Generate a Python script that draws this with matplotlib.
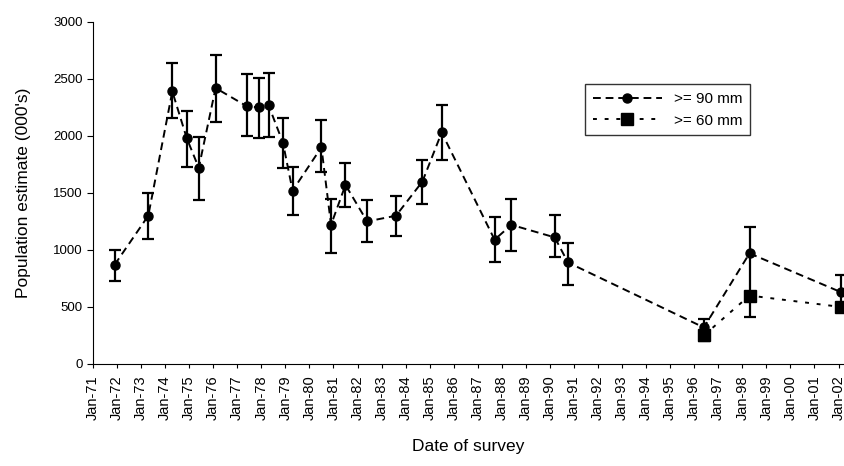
import matplotlib
matplotlib.use("Agg")
import matplotlib.pyplot as plt
import numpy as np

# ---- data ----
tick_years = list(range(1971, 2003))
tick_labels = [f"Jan-{y % 100:02d}" for y in tick_years]

s90_years = [1971.9, 1973.3, 1974.3, 1974.9, 1975.4, 1976.1, 1977.4, 1977.9, 1978.3,
             1978.9, 1979.3, 1980.5, 1980.9, 1981.5, 1982.4, 1983.6, 1984.7, 1985.5,
             1987.7, 1988.4, 1990.2, 1990.75, 1996.4, 1998.3, 2002.1]
s90_values = [870, 1300, 2390, 1980, 1720, 2420, 2260, 2250, 2270,
              1940, 1520, 1900, 1220, 1570, 1250, 1300, 1600, 2030,
              1090, 1220, 1110, 890, 320, 970, 630]
s90_low = [730, 1100, 2160, 1730, 1440, 2120, 2000, 1980, 1990,
           1720, 1310, 1680, 970, 1380, 1070, 1120, 1400, 1790,
           890, 990, 940, 690, 200, 410, 520]
s90_high = [1000, 1500, 2640, 2220, 1990, 2710, 2540, 2510, 2550,
            2160, 1730, 2140, 1450, 1760, 1440, 1470, 1790, 2270,
            1290, 1450, 1310, 1060, 390, 1200, 780]

s60_years = [1996.4, 1998.3, 2002.1]
s60_values = [250, 600, 500]

labels = [">= 90 mm", ">= 60 mm"]

# ---- plot ----
plt.rcParams['font.family'] = ['Liberation Sans', 'DejaVu Sans']
fig = plt.figure(figsize=(8.45, 4.66), dpi=100)
ax = fig.add_axes([0.110, 0.219, 0.888, 0.734])

v = np.array(s90_values)
yerr = [v - np.array(s90_low), np.array(s90_high) - v]
ax.errorbar(s90_years, s90_values, yerr=yerr, fmt='none', ecolor='black',
            elinewidth=1.6, capsize=4.5, capthick=1.6, zorder=2)
ax.plot(s90_years, s90_values, color='black', linestyle=(0, (4, 2.5)), linewidth=1.4,
        marker='o', markersize=6.5, markerfacecolor='black', label=labels[0], zorder=3)
ax.plot(s60_years, s60_values, color='black', linestyle=(0, (2, 4)), linewidth=1.4,
        marker='s', markersize=8, markerfacecolor='black', label=labels[1], zorder=3)

ax.set_xlim(1971.0, 2002.2)
ax.set_ylim(0, 3000)
ax.set_yticks(range(0, 3001, 500))
ax.set_xticks(tick_years)
ax.set_xticklabels(tick_labels, rotation=90, fontsize=10.5)
ax.tick_params(axis='y', labelsize=9.5, length=4)
ax.tick_params(axis='x', length=3, pad=5)
ax.spines['top'].set_visible(False)
ax.spines['right'].set_visible(False)

ax.set_ylabel("Population estimate (000's)", fontsize=12.5, labelpad=16)
ax.set_xlabel("Date of survey", fontsize=12.5, labelpad=14)

leg = ax.legend(loc='upper left', bbox_to_anchor=(0.646, 0.84), frameon=True,
                fancybox=False, edgecolor='black', fontsize=11, handlelength=4.5,
                borderpad=0.5, labelspacing=0.5)
leg.get_frame().set_linewidth(1.0)

fig.savefig("out.png", dpi=100)
